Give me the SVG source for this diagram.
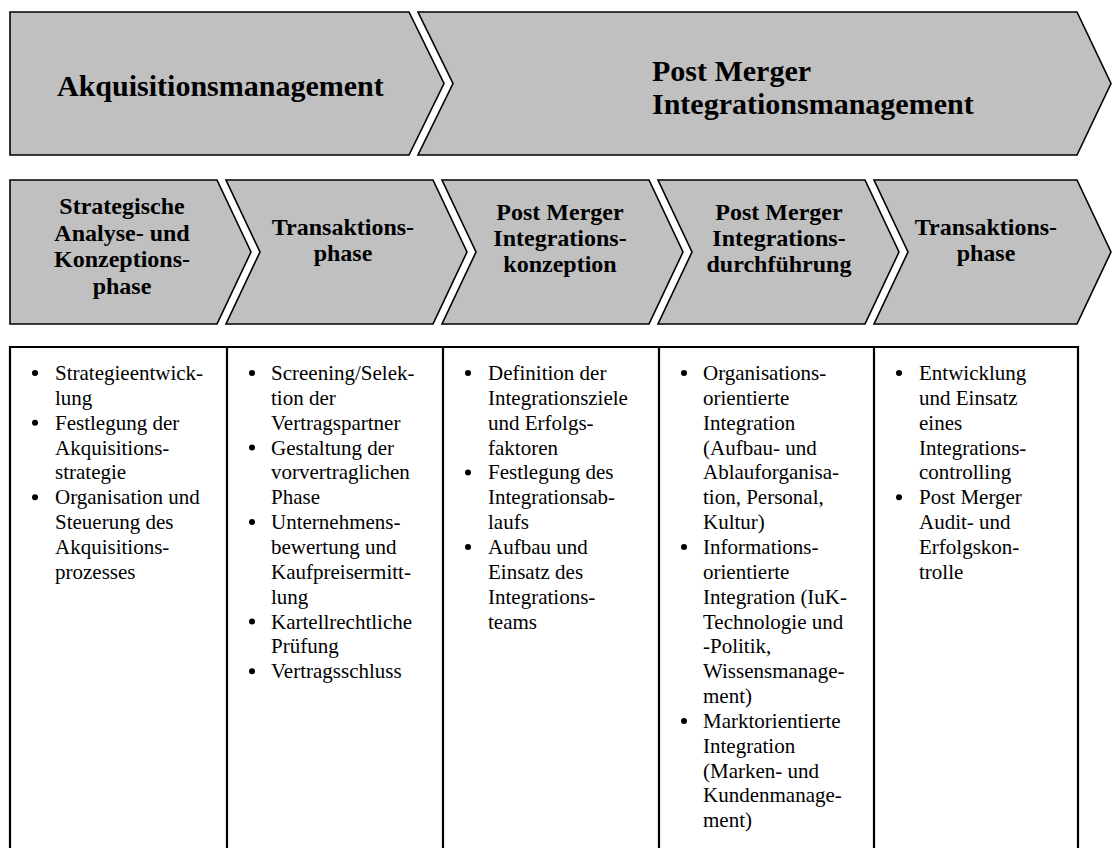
<svg xmlns="http://www.w3.org/2000/svg" width="1114" height="848" viewBox="0 0 1114 848">
<style>
.chev{fill:#c0c0c0;stroke:#000;stroke-width:1.6;stroke-linejoin:miter}
.h1{font-family:"Liberation Serif","Times New Roman",serif;font-weight:bold;font-size:30px;fill:#000}
.h2{font-family:"Liberation Serif","Times New Roman",serif;font-weight:bold;font-size:24px;fill:#000;text-anchor:middle}
.body{font-family:"Liberation Serif","Times New Roman",serif;font-size:21px;fill:#000}
.grid{stroke:#000;stroke-width:2.2;fill:none}
.bul{fill:#000}
</style>
<rect width="1114" height="848" fill="#fff"/>
<g id="akquisitionsmanagement">
<path class="chev" d="M10,12 H409 L444,83.5 L409,155 H10 Z"/>
<text class="h1" x="57" y="96">Akquisitionsmanagement</text>
</g>
<g id="pmi-management">
<path class="chev" d="M418,12 H1077 L1111,83.5 L1077,155 H418 L453,83.5 Z"/>
<text class="h1" x="652" y="81">Post Merger</text>
<text class="h1" x="652" y="114">Integrationsmanagement</text>
</g>
<g id="phase1">
<path class="chev" d="M10,180 H217 L251,252 L217,324 H10 Z"/>
<text class="h2" x="122" y="214">Strategische</text>
<text class="h2" x="122" y="240.5">Analyse- und</text>
<text class="h2" x="122" y="267">Konzeptions-</text>
<text class="h2" x="122" y="293.5">phase</text>
</g>
<g id="phase2">
<path class="chev" d="M226,180 H433 L467,252 L433,324 H226 L260,252 Z"/>
<text class="h2" x="343" y="235">Transaktions-</text>
<text class="h2" x="343" y="261">phase</text>
</g>
<g id="phase3">
<path class="chev" d="M442,180 H649 L683,252 L649,324 H442 L476,252 Z"/>
<text class="h2" x="560" y="220">Post Merger</text>
<text class="h2" x="560" y="246">Integrations-</text>
<text class="h2" x="560" y="272">konzeption</text>
</g>
<g id="phase4">
<path class="chev" d="M658,180 H865 L899,252 L865,324 H658 L692,252 Z"/>
<text class="h2" x="779" y="220">Post Merger</text>
<text class="h2" x="779" y="246">Integrations-</text>
<text class="h2" x="779" y="272">durchführung</text>
</g>
<g id="phase5">
<path class="chev" d="M874,180 H1077 L1111,252 L1077,324 H874 L908,252 Z"/>
<text class="h2" x="986" y="235">Transaktions-</text>
<text class="h2" x="986" y="261">phase</text>
</g>
<g id="table">
<path class="grid" d="M10,347 H1078 M10,346 V860 M227,347 V860 M443,347 V860 M659,347 V860 M874,347 V860 M1078,346 V860"/>
</g>
<g id="col1">
<circle class="bul" cx="35" cy="373" r="3"/>
<circle class="bul" cx="35" cy="422.7" r="3"/>
<circle class="bul" cx="35" cy="497.25" r="3"/>
<text class="body" x="55" y="380">
<tspan x="55" dy="0">Strategieentwick-</tspan>
<tspan x="55" dy="24.85">lung</tspan>
<tspan x="55" dy="24.85">Festlegung der</tspan>
<tspan x="55" dy="24.85">Akquisitions-</tspan>
<tspan x="55" dy="24.85">strategie</tspan>
<tspan x="55" dy="24.85">Organisation und</tspan>
<tspan x="55" dy="24.85">Steuerung des</tspan>
<tspan x="55" dy="24.85">Akquisitions-</tspan>
<tspan x="55" dy="24.85">prozesses</tspan>
</text>
</g>
<g id="col2">
<circle class="bul" cx="252" cy="373" r="3"/>
<circle class="bul" cx="252" cy="447.55" r="3"/>
<circle class="bul" cx="252" cy="522.1" r="3"/>
<circle class="bul" cx="252" cy="621.5" r="3"/>
<circle class="bul" cx="252" cy="671.2" r="3"/>
<text class="body" x="271" y="380">
<tspan x="271" dy="0">Screening/Selek-</tspan>
<tspan x="271" dy="24.85">tion der</tspan>
<tspan x="271" dy="24.85">Vertragspartner</tspan>
<tspan x="271" dy="24.85">Gestaltung der</tspan>
<tspan x="271" dy="24.85">vorvertraglichen</tspan>
<tspan x="271" dy="24.85">Phase</tspan>
<tspan x="271" dy="24.85">Unternehmens-</tspan>
<tspan x="271" dy="24.85">bewertung und</tspan>
<tspan x="271" dy="24.85">Kaufpreisermitt-</tspan>
<tspan x="271" dy="24.85">lung</tspan>
<tspan x="271" dy="24.85">Kartellrechtliche</tspan>
<tspan x="271" dy="24.85">Prüfung</tspan>
<tspan x="271" dy="24.85">Vertragsschluss</tspan>
</text>
</g>
<g id="col3">
<circle class="bul" cx="468" cy="373" r="3"/>
<circle class="bul" cx="468" cy="472.4" r="3"/>
<circle class="bul" cx="468" cy="546.95" r="3"/>
<text class="body" x="488" y="380">
<tspan x="488" dy="0">Definition der</tspan>
<tspan x="488" dy="24.85">Integrationsziele</tspan>
<tspan x="488" dy="24.85">und Erfolgs-</tspan>
<tspan x="488" dy="24.85">faktoren</tspan>
<tspan x="488" dy="24.85">Festlegung des</tspan>
<tspan x="488" dy="24.85">Integrationsab-</tspan>
<tspan x="488" dy="24.85">laufs</tspan>
<tspan x="488" dy="24.85">Aufbau und</tspan>
<tspan x="488" dy="24.85">Einsatz des</tspan>
<tspan x="488" dy="24.85">Integrations-</tspan>
<tspan x="488" dy="24.85">teams</tspan>
</text>
</g>
<g id="col4">
<circle class="bul" cx="684" cy="373" r="3"/>
<circle class="bul" cx="684" cy="546.95" r="3"/>
<circle class="bul" cx="684" cy="720.9" r="3"/>
<text class="body" x="703" y="380">
<tspan x="703" dy="0">Organisations-</tspan>
<tspan x="703" dy="24.85">orientierte</tspan>
<tspan x="703" dy="24.85">Integration</tspan>
<tspan x="703" dy="24.85">(Aufbau- und</tspan>
<tspan x="703" dy="24.85">Ablauforganisa-</tspan>
<tspan x="703" dy="24.85">tion, Personal,</tspan>
<tspan x="703" dy="24.85">Kultur)</tspan>
<tspan x="703" dy="24.85">Informations-</tspan>
<tspan x="703" dy="24.85">orientierte</tspan>
<tspan x="703" dy="24.85">Integration (IuK-</tspan>
<tspan x="703" dy="24.85">Technologie und</tspan>
<tspan x="703" dy="24.85">-Politik,</tspan>
<tspan x="703" dy="24.85">Wissensmanage-</tspan>
<tspan x="703" dy="24.85">ment)</tspan>
<tspan x="703" dy="24.85">Marktorientierte</tspan>
<tspan x="703" dy="24.85">Integration</tspan>
<tspan x="703" dy="24.85">(Marken- und</tspan>
<tspan x="703" dy="24.85">Kundenmanage-</tspan>
<tspan x="703" dy="24.85">ment)</tspan>
</text>
</g>
<g id="col5">
<circle class="bul" cx="899" cy="373" r="3"/>
<circle class="bul" cx="899" cy="497.25" r="3"/>
<text class="body" x="919" y="380">
<tspan x="919" dy="0">Entwicklung</tspan>
<tspan x="919" dy="24.85">und Einsatz</tspan>
<tspan x="919" dy="24.85">eines</tspan>
<tspan x="919" dy="24.85">Integrations-</tspan>
<tspan x="919" dy="24.85">controlling</tspan>
<tspan x="919" dy="24.85">Post Merger</tspan>
<tspan x="919" dy="24.85">Audit- und</tspan>
<tspan x="919" dy="24.85">Erfolgskon-</tspan>
<tspan x="919" dy="24.85">trolle</tspan>
</text>
</g>
</svg>
